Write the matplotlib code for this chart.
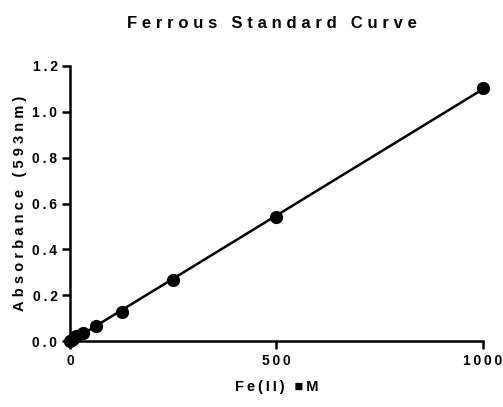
import numpy as np
import matplotlib.pyplot as plt

plt.rcParams['font.family'] = ['Liberation Sans', 'DejaVu Sans']

fe_um = [0, 7.8, 15.6, 31.25, 62.5, 125, 250, 500, 1000]
absorbance = [0.0, 0.01, 0.02, 0.035, 0.065, 0.125, 0.265, 0.54, 1.105]
x_ticks = [0, 500, 1000]
y_ticks = [0.0, 0.2, 0.4, 0.6, 0.8, 1.0, 1.2]


def spaced(s, gap='\u2009'):
    return gap.join(s)


def main():
    fig = plt.figure(figsize=(5.03, 4.07), dpi=100)
    ax = fig.add_axes([0.139, 0.162, 0.821, 0.676])

    slope, intercept = np.polyfit(fe_um, absorbance, 1)
    xs = np.array([0, max(fe_um)])
    ax.plot(xs, slope * xs + intercept, color='black', lw=1.8, clip_on=False)
    ax.plot(fe_um, absorbance, 'o', color='black', markersize=8.5, clip_on=False)

    ax.set_xlim(0, 1000)
    ax.set_ylim(0, 1.2)
    ax.set_xticks(x_ticks)
    ax.set_yticks(y_ticks)
    ax.set_xticklabels([spaced(str(t)) for t in x_ticks], fontweight='bold', fontsize=10)
    ax.set_yticklabels([spaced('%.1f' % t) for t in y_ticks], fontweight='bold', fontsize=10)
    ax.tick_params(width=1.8, length=6, color='black', pad=3)

    for side in ['top', 'right']:
        ax.spines[side].set_visible(False)
    for side in ['left', 'bottom']:
        ax.spines[side].set_linewidth(1.8)

    ax.set_xlabel(spaced('Fe(II) \u25a0M'), fontweight='bold', fontsize=10.5, labelpad=9)
    ax.set_ylabel(spaced('Absorbance (593nm)', '\u2009\u200a'), fontweight='bold',
                  fontsize=10.5, labelpad=4)
    ax.set_title(spaced('Ferrous Standard Curve', '\u2009\u200a'), fontweight='bold',
                 fontsize=12, pad=27, x=0.49)

    fig.savefig('out.png', dpi=100)


if __name__ == '__main__':
    main()
